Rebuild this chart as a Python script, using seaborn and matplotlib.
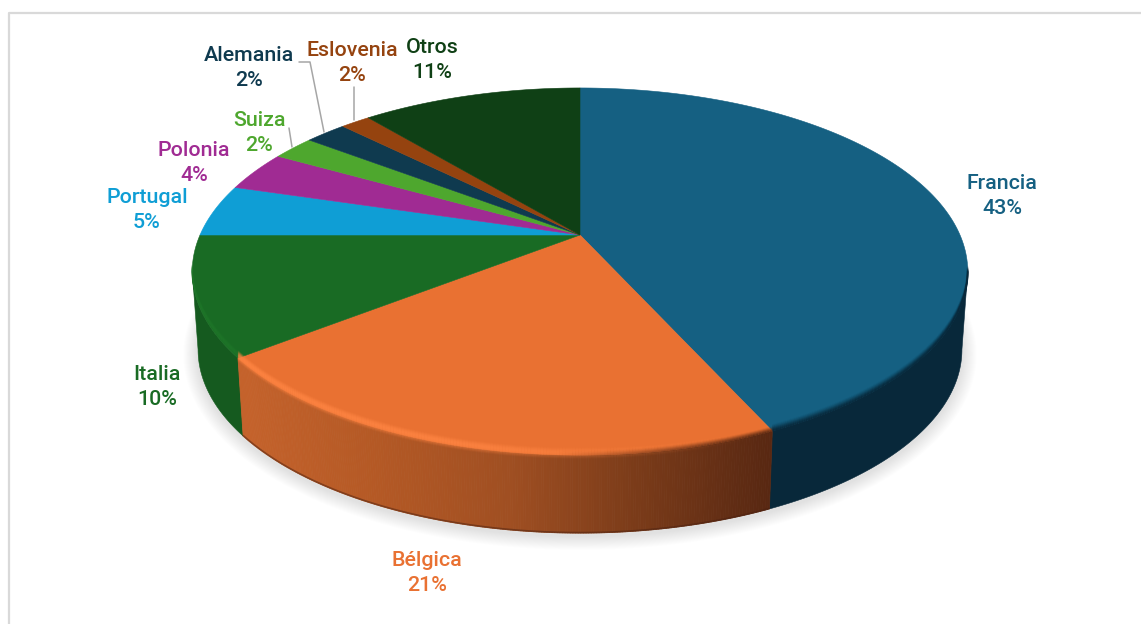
import numpy as np
import matplotlib
matplotlib.use("Agg")
import matplotlib.pyplot as plt
from matplotlib.collections import LineCollection
from matplotlib.colors import to_rgb
import seaborn as sns

# data
paises = ['Francia', 'Bélgica', 'Italia', 'Portugal', 'Polonia', 'Suiza', 'Alemania', 'Eslovenia', 'Otros']
valores = [43.2, 21.3, 10.5, 4.6, 3.55, 2.15, 2.1, 1.5, 11.1]
etiquetas_pct = ['43%', '21%', '10%', '5%', '4%', '2%', '2%', '2%', '11%']
colores = ['#156082', '#E97132', '#196B24', '#0F9ED5', '#A02B93', '#4EA72E', '#0F3A4F', '#95430F', '#0F4015']

# label centres, in pixels
pos_etiquetas = [(1002, 196), (427, 573), (157, 387), (147, 210), (194, 163),
                 (259, 133), (249, 68), (352, 63), (432, 60)]

sns.set_theme(style='white')
plt.rcParams['font.family'] = ['Roboto', 'DejaVu Sans']

# perspective of the pie disc
CX, CY = 580, 235
A, B, K = 380.0, 176.3, 0.199


def rim(t, r=1.0):
    # t in degrees, clockwise from the top
    t = np.radians(t)
    u, v = r * np.sin(t), r * np.cos(t)
    d = 1 + K * v
    return CX + A * u / d, CY - B * v / d


def bottom(x, y):
    return CX + (x - CX) * 0.985, y + 78


fig = plt.figure(figsize=(11.41, 6.24), dpi=100)
ax = fig.add_axes([0, 0, 1, 1])
ax.set_xlim(0, 1141)
ax.set_ylim(624, 0)
ax.axis('off')

# chart frame
ax.plot([9, 9, 1141], [624, 13, 13], color='#d9d9d9', lw=1.6, zorder=1)

limites = np.concatenate([[0], np.cumsum(valores)]) / sum(valores) * 360
t_ini = np.degrees(np.arccos(-K))
t_fin = 360 - t_ini

# soft shadow below the disc
ts = np.linspace(0, 360, 400)
xs, ys = bottom(*rim(ts))
for e in range(15, 0, -1):
    ax.fill(CX + (xs - CX) * (1 + e / 388), ys + 3 + (ys - 320) * e / 230,
            color='black', alpha=0.009, lw=0, zorder=2)

# side wall: plain for Francia and Italia, thin strips for the orange gradient
for i, c in [(0, '#08283A'), (2, '#155A1F')]:
    t1, t2 = max(limites[i], t_ini), min(limites[i + 1], t_fin)
    x, y = rim(np.linspace(t1, t2, 200))
    bx, by = bottom(x, y)
    ax.fill(np.r_[x, bx[::-1]], np.r_[y, by[::-1]], color=c, lw=0.4, zorder=3)

grad_belgica = sns.blend_palette(['#C4622B', '#B45925', '#A04F22', '#7A3B19', '#592812'], 200)
tt = np.linspace(limites[1], limites[2], 240)
for a, b in zip(tt[:-1], tt[1:]):
    x1, y1 = rim(a)
    x2, y2 = rim(b)
    x3, y3 = bottom(x2, y2)
    x4, y4 = bottom(x1, y1)
    f = (x1 - 245) / (771 - 245)
    c = grad_belgica[int(np.clip(f, 0, 0.999) * 200)]
    ax.fill([x1, x2, x3, x4], [y1, y2, y3, y4], color=c, lw=0.6, zorder=3)

# dark thin line at the foot of the orange wall
bx, by = bottom(*rim(tt))
ax.plot(bx, by - 0.5, color='#4a2010', lw=1.2, alpha=0.5, zorder=3)

# top face
for i, c in enumerate(colores):
    tt = np.linspace(limites[i], limites[i + 1], 160)
    x, y = rim(tt)
    ax.fill(np.r_[CX, x], np.r_[CY, y], color=c, ec=c, lw=0.4, zorder=4)


def bisel(i, color, perfil, peso=None):
    # stack of thin lines following the front edge, peso fades it along x
    t1, t2 = max(limites[i], t_ini), min(limites[i + 1], t_fin)
    x, y = rim(np.linspace(t1, t2, 200))
    for dy, alfa in perfil:
        pts = np.column_stack([x, y + dy])
        segs = np.stack([pts[:-1], pts[1:]], axis=1)
        w = np.ones(len(segs)) if peso is None else peso(x[:-1])
        rgba = [(*to_rgb(color), alfa * p) for p in w]
        ax.add_collection(LineCollection(segs, colors=rgba, linewidths=1.1, capstyle='butt', zorder=5))


# front edge bevel
bisel(0, '#08283A', [(-6, .06), (-5, .14), (-4, .26), (-3, .42), (-2, .6), (-1, .78), (0, .9)])
bisel(1, '#FF8543', [(-7, .12), (-6, .28), (-5, .45), (-4, .6), (-3, .7), (-2, .7), (-1, .6),
                     (0, .45), (1, .3), (2, .18), (3, .08)],
      peso=lambda x: np.clip((760 - x) / 300, 0, 1))
bisel(1, '#5B2A13', [(-4, .1), (-3, .25), (-2, .45), (-1, .65), (0, .85)],
      peso=lambda x: np.clip((x - 560) / 200, 0, 1))
bisel(2, '#21792B', [(-7, .15), (-6, .3), (-5, .42), (-4, .5), (-3, .5), (-2, .42), (-1, .3), (0, .15)])

# leader lines
guias = [([299, 310, 324], [62, 62, 132]), ([354, 354], [87, 120]), ([289, 292], [128, 147])]
for gx, gy in guias:
    ax.plot(gx, gy, color='#a6a6a6', lw=1.1, zorder=6)

for nombre, pct, c, (x, y) in zip(paises, etiquetas_pct, colores, pos_etiquetas):
    ax.text(x, y, f'{nombre}\n{pct}', color=c, fontsize=15.4, fontweight='medium',
            ha='center', va='center', linespacing=1.42, zorder=7)

fig.savefig('out.png', dpi=100)
